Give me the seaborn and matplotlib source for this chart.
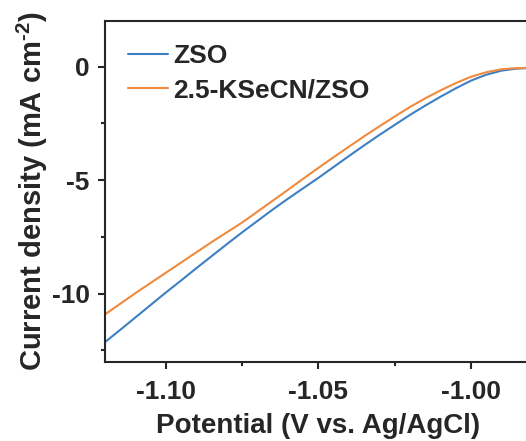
import numpy as np
import pandas as pd
import matplotlib
matplotlib.use("Agg")
import matplotlib.pyplot as plt
import seaborn as sns

potential = [-1.120, -1.115, -1.110, -1.105, -1.100, -1.095, -1.090, -1.085, -1.080, -1.075,
             -1.070, -1.065, -1.060, -1.055, -1.050, -1.045, -1.040, -1.035, -1.030, -1.025,
             -1.020, -1.015, -1.010, -1.005, -1.000, -0.995, -0.990, -0.985, -0.980]
zso = [-12.14, -11.60, -11.05, -10.50, -9.95, -9.42, -8.88, -8.35, -7.82, -7.30,
       -6.80, -6.30, -5.82, -5.36, -4.90, -4.42, -3.94, -3.47, -3.01, -2.57,
       -2.13, -1.72, -1.33, -0.96, -0.62, -0.36, -0.18, -0.09, -0.06]
kse = [-10.92, -10.45, -9.98, -9.53, -9.08, -8.63, -8.18, -7.73, -7.30, -6.87,
       -6.39, -5.91, -5.43, -4.94, -4.46, -3.99, -3.53, -3.07, -2.63, -2.20,
       -1.78, -1.40, -1.05, -0.73, -0.45, -0.25, -0.12, -0.07, -0.05]
series_names = ["ZSO", "2.5-KSeCN/ZSO"]
colors = ["#3f7fc3", "#f08a3c"]

df = pd.concat([
    pd.DataFrame({"Potential": potential, "J": zso, "Sample": series_names[0]}),
    pd.DataFrame({"Potential": potential, "J": kse, "Sample": series_names[1]}),
])

sns.set_style("ticks")
plt.rcParams['font.family'] = ['Liberation Sans', 'DejaVu Sans']
plt.rcParams['font.weight'] = 'bold'
plt.rcParams['mathtext.fontset'] = 'custom'
plt.rcParams['mathtext.rm'] = 'Liberation Sans:bold'
plt.rcParams['mathtext.bf'] = 'Liberation Sans:bold'
plt.rcParams['mathtext.default'] = 'rm'

fig = plt.figure(figsize=(5.26, 4.41), dpi=100)
ax = fig.add_axes([0.1996, 0.18, 0.8118, 0.772])
sns.lineplot(data=df, x="Potential", y="J", hue="Sample", palette=colors,
             hue_order=series_names, ax=ax, linewidth=1.5, sort=False)

ax.set_xlim(-1.12, -0.98)
ax.set_ylim(-13, 2)
ax.set_xticks([-1.10, -1.05, -1.00])
ax.set_xticklabels(["-1.10", "-1.05", "-1.00"])
ax.set_xticks([-1.075, -1.025], minor=True)
ax.set_yticks([0, -5, -10])
ax.set_yticklabels(["0", "-5", "-10"])
ax.set_yticks([-2.5, -7.5, -12.5], minor=True)
ax.tick_params(which='major', direction='out', length=5, width=1.5, labelsize=19, pad=6)
ax.tick_params(axis='x', which='major', pad=8)
ax.tick_params(which='minor', direction='out', length=3, width=1.5)
for lab in ax.get_xticklabels() + ax.get_yticklabels():
    lab.set_fontweight('bold')
for s in ax.spines.values():
    s.set_linewidth(1.5)

ax.set_xlabel("Potential (V vs. Ag/AgCl)", fontsize=20, fontweight='bold', labelpad=7)
ax.set_ylabel("Current density (mA cm$^{\\text{-2}}$)", fontsize=21, fontweight='bold', labelpad=1)

leg = ax.legend(loc='upper left', frameon=False, fontsize=19, handlelength=1.5,
                handletextpad=0.2, borderaxespad=0.0, labelspacing=0.4,
                bbox_to_anchor=(0.029, 0.964))
for t in leg.get_texts():
    t.set_fontweight('bold')

fig.savefig("out.png", dpi=100)
